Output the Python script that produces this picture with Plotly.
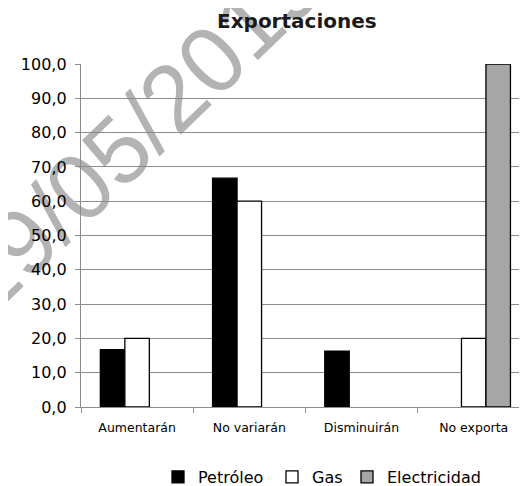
import plotly.graph_objects as go

categories = ["Aumentarán", "No variarán", "Disminuirán", "No exporta"]
petroleo = [16.7, 66.7, 16.3, None]
gas = [20.0, 60.0, None, 20.0]
electricidad = [None, None, None, 100.0]
y_ticks = [0, 10, 20, 30, 40, 50, 60, 70, 80, 90, 100]

# page body has an 8px margin: figure is drawn at (8, 8) in the window
OFF = 8
W, H = 527 - OFF, 486 - OFF
L = 81 - OFF
T = 64 - OFF
B = H - (407 - OFF)
PH = H - T - B

def py(win_y):
    return (H - B - (win_y - OFF)) / PH

def px(win_x):
    return (win_x - OFF - L) / (W - L)

fig = go.Figure()
series = [("Petróleo", petroleo, "#000000", 69), ("Gas", gas, "#ffffff", 30), ("Electricidad", electricidad, "#a6a6a6", 100)]
for name, vals, col, lw in series:
    fig.add_trace(go.Bar(x=categories, y=vals, name=name, legendwidth=lw,
                         marker=dict(color=col, line=dict(color="#000000", width=1.3))))

grid = "#8c8c8c"
fig.update_layout(
    width=W, height=H,
    margin=dict(l=L, r=0, t=T, b=B, autoexpand=False),
    paper_bgcolor="white", plot_bgcolor="white",
    separators=",.",
    barmode="group", bargap=0.345, bargroupgap=0,
    showlegend=True,
    legend=dict(orientation="h", x=px(158), y=py(477), xanchor="left", yanchor="middle",
                font=dict(family="DejaVu Sans, sans-serif", size=16, color="#000"),
                itemwidth=30, traceorder="normal"),
    font=dict(family="DejaVu Sans, sans-serif", color="#000"),
)
fig.update_xaxes(
    type="category", range=[-0.5, 3.475], showgrid=False, automargin=False,
    showline=True, linecolor=grid, linewidth=1.3,
    ticks="outside", tickson="boundaries", ticklen=5, tickcolor=grid,
    tickfont=dict(family="DejaVu Sans, sans-serif", size=12.5, color="#000"),
    ticklabelstandoff=9,
)
fig.update_yaxes(
    range=[0, 100], tickvals=y_ticks, tickformat=".1f", automargin=False,
    showgrid=True, gridcolor=grid, gridwidth=1.3,
    showline=True, linecolor=grid, linewidth=1.3,
    ticks="outside", ticklen=5, tickcolor=grid,
    tickfont=dict(family="DejaVu Sans, sans-serif", size=16, color="#000"),
    ticklabelstandoff=5,
    zeroline=False,
)
# watermark (behind axes labels)
cx, cy = 130, 126
fig.add_shape(type="rect", xref="paper", yref="paper", layer="below",
              x0=px(cx - 10), x1=px(cx + 10), y0=py(cy + 10), y1=py(cy - 10),
              line=dict(width=0), fillcolor="rgba(0,0,0,0)",
              label=dict(text="29/05/2019", textangle=-44, textposition="middle center",
                         font=dict(family="Liberation Sans, Arial, sans-serif", size=94, color="#b3b3b3")))
fig.add_annotation(text="<b>Exportaciones</b>", xref="paper", yref="paper", x=px(297), y=py(21),
                   xanchor="center", yanchor="middle", showarrow=False,
                   font=dict(family="DejaVu Sans, sans-serif", size=20, color="#1a1a1a"))
fig.write_html("out.html")
